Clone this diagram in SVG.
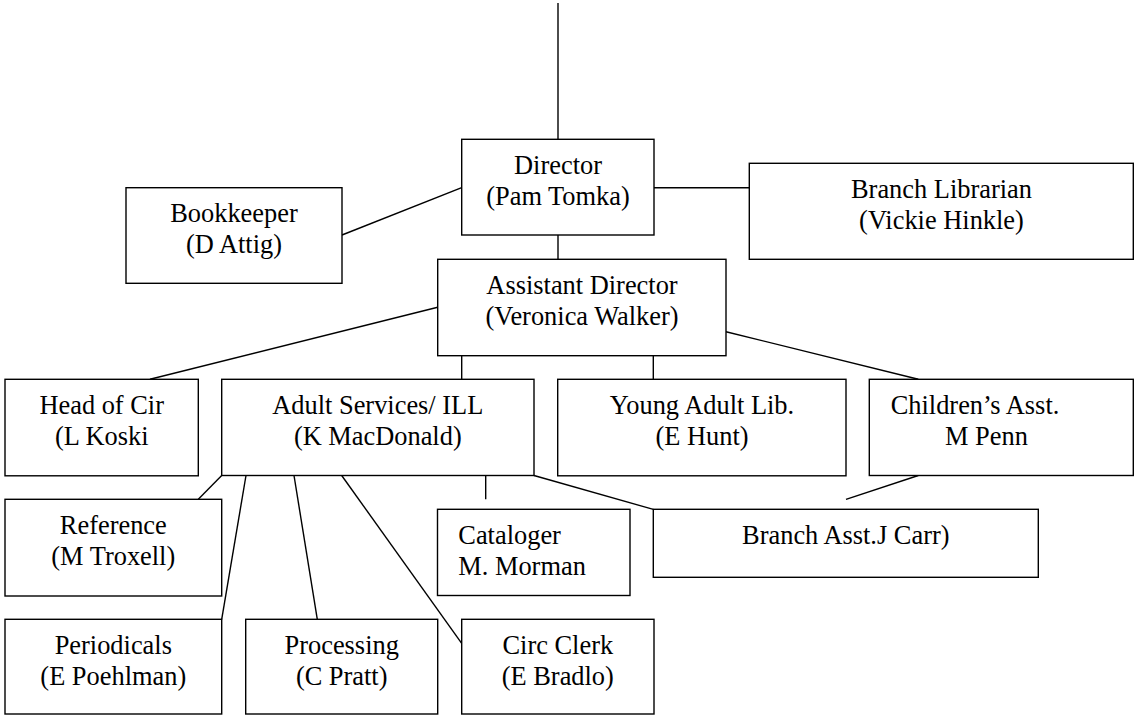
<svg xmlns="http://www.w3.org/2000/svg" width="1135" height="715" viewBox="0 0 1135 715">
<style>
  .box { fill: #ffffff; stroke: #000000; stroke-width: 1.4; }
  .conn line { stroke: #000000; stroke-width: 1.4; }
  text { font-family: 'Liberation Serif', 'DejaVu Serif', 'Noto Serif', serif; font-size: 26.4px; fill: #000000; }
  .c { text-anchor: middle; }
</style>
<rect width="1135" height="715" fill="#ffffff"/>
<g id="connectors" class="conn">
  <line x1="558" y1="3" x2="558" y2="139.3"/>
  <line x1="461.7" y1="187.7" x2="342" y2="235"/>
  <line x1="654" y1="187.7" x2="749.3" y2="187.7"/>
  <line x1="558" y1="235" x2="558" y2="259.3"/>
  <line x1="437.7" y1="307.3" x2="150" y2="379.3"/>
  <line x1="461.7" y1="355.7" x2="461.7" y2="379.3"/>
  <line x1="653.3" y1="355.7" x2="653.3" y2="379.3"/>
  <line x1="726" y1="331.7" x2="918.3" y2="379.3"/>
  <line x1="221.7" y1="475.5" x2="198.3" y2="499.3"/>
  <line x1="246" y1="475.5" x2="221.7" y2="619.3"/>
  <line x1="294" y1="475.5" x2="317.3" y2="619.3"/>
  <line x1="341.7" y1="475.5" x2="461.7" y2="643.3"/>
  <line x1="485.7" y1="475.5" x2="485.7" y2="499.3"/>
  <line x1="534" y1="475.5" x2="653.3" y2="509.3"/>
  <line x1="918.3" y1="475.5" x2="846" y2="499.3"/>
</g>
<g id="director">
  <rect class="box" x="461.7" y="139.3" width="192.3" height="95.7"/>
  <text class="c" x="558" y="174">Director</text>
  <text class="c" x="558" y="205">(Pam Tomka)</text>
</g>
<g id="bookkeeper">
  <rect class="box" x="126" y="187.7" width="216" height="95.6"/>
  <text class="c" x="234" y="221.7">Bookkeeper</text>
  <text class="c" x="234" y="253">(D Attig)</text>
</g>
<g id="branch-librarian">
  <rect class="box" x="749.3" y="163.3" width="384" height="96"/>
  <text class="c" x="941.5" y="197.7">Branch Librarian</text>
  <text class="c" x="941.5" y="229">(Vickie Hinkle)</text>
</g>
<g id="assistant-director">
  <rect class="box" x="437.7" y="259.3" width="288.3" height="96.4"/>
  <text class="c" x="582" y="294">Assistant Director</text>
  <text class="c" x="582" y="324.5">(Veronica Walker)</text>
</g>
<g id="head-of-cir">
  <rect class="box" x="5" y="379.3" width="193.3" height="96.5"/>
  <text class="c" x="101.7" y="414">Head of Cir</text>
  <text class="c" x="101.7" y="445">(L Koski</text>
</g>
<g id="adult-services">
  <rect class="box" x="221.7" y="379.3" width="312.3" height="96.2"/>
  <text class="c" x="377.8" y="414">Adult Services/ ILL</text>
  <text class="c" x="377.8" y="445">(K MacDonald)</text>
</g>
<g id="young-adult">
  <rect class="box" x="557.7" y="379.3" width="288.3" height="96.5"/>
  <text class="c" x="702" y="414">Young Adult Lib.</text>
  <text class="c" x="702" y="445">(E Hunt)</text>
</g>
<g id="childrens-asst">
  <rect class="box" x="869.3" y="379.3" width="264" height="96.2"/>
  <text x="890.7" y="414">Children’s Asst.</text>
  <text x="945" y="444.5">M Penn</text>
</g>
<g id="reference">
  <rect class="box" x="5" y="499.3" width="216.7" height="96.7"/>
  <text class="c" x="113.3" y="534">Reference</text>
  <text class="c" x="113.3" y="565">(M Troxell)</text>
</g>
<g id="cataloger">
  <rect class="box" x="437.5" y="509.3" width="192.5" height="86.2"/>
  <text x="458.3" y="544">Cataloger</text>
  <text x="458.3" y="574.5">M. Morman</text>
</g>
<g id="branch-asst">
  <rect class="box" x="653.3" y="509.3" width="385" height="68"/>
  <text class="c" x="845.8" y="544">Branch Asst.J Carr)</text>
</g>
<g id="periodicals">
  <rect class="box" x="5" y="619.3" width="216.7" height="94.7"/>
  <text class="c" x="113.3" y="654">Periodicals</text>
  <text class="c" x="113.3" y="685">(E Poehlman)</text>
</g>
<g id="processing">
  <rect class="box" x="245.7" y="619.3" width="192" height="94.7"/>
  <text class="c" x="341.7" y="654">Processing</text>
  <text class="c" x="341.7" y="685">(C Pratt)</text>
</g>
<g id="circ-clerk">
  <rect class="box" x="461.7" y="619.3" width="192.3" height="94.7"/>
  <text class="c" x="557.8" y="654">Circ Clerk</text>
  <text class="c" x="557.8" y="685">(E Bradlo)</text>
</g>
</svg>
